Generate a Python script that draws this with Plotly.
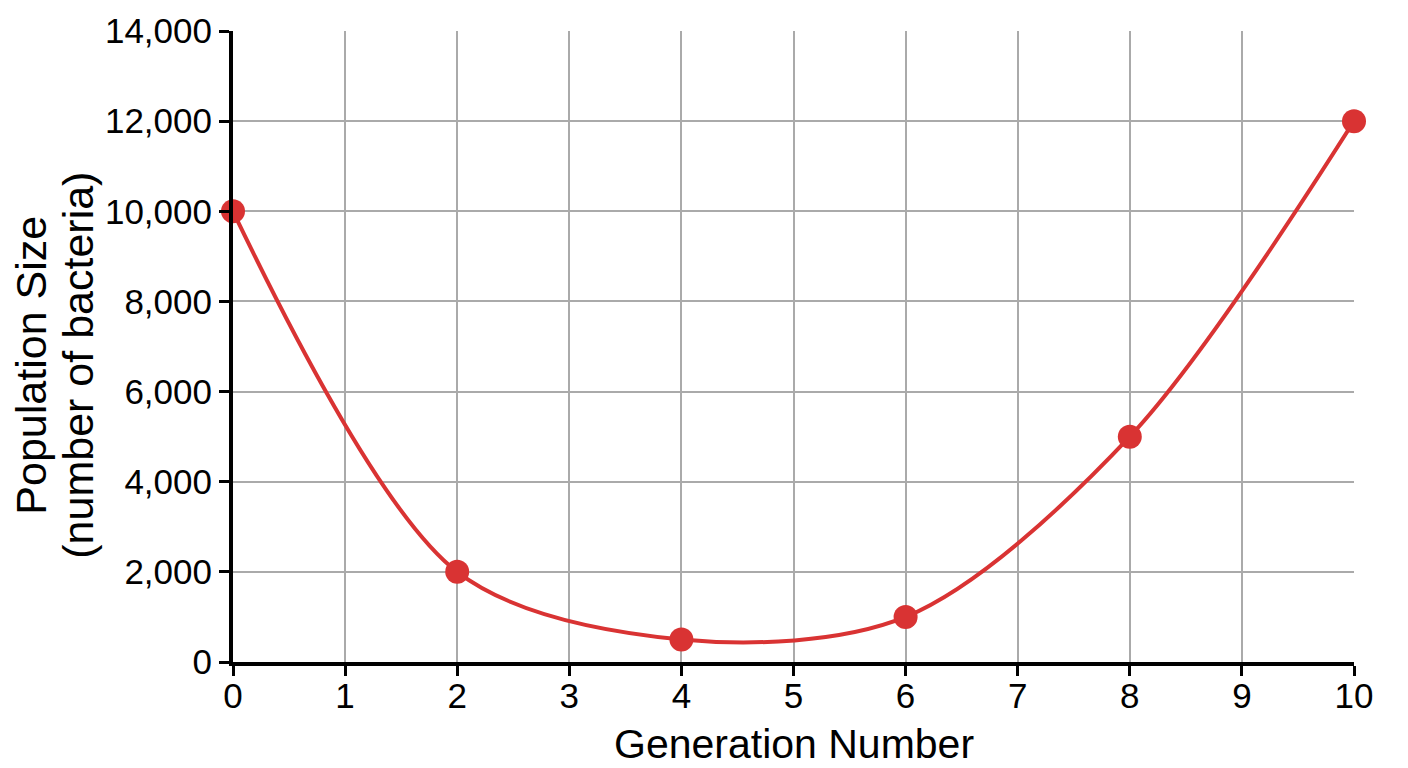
import plotly.graph_objs as go

# data
generation = [0, 2, 4, 6, 8, 10]
population = [10000, 2000, 500, 1000, 5000, 12000]

x_ticks = list(range(0, 11))
y_ticks = list(range(0, 14001, 2000))

x_title = 'Generation Number'
y_title_lines = ['Population Size', '(number of bacteria)']

red = '#d93333'

trace = go.Scatter(
    x=generation, y=population, mode='lines+markers',
    line=dict(color=red, width=4, shape='spline', smoothing=0.9),
    marker=dict(color=red, size=24),
    cliponaxis=False, showlegend=False,
)

# page body adds an 8px margin, so the figure margins are shifted to compensate
layout = go.Layout(
    width=1408, height=768,
    margin=dict(l=225, r=62, t=23, b=114),
    paper_bgcolor='white', plot_bgcolor='white',
    font=dict(family='Liberation Sans, Arial, sans-serif', color='black', size=35),
    xaxis=dict(
        range=[0, 10], tickvals=x_ticks, automargin=False, ticklabelstandoff=-10,
        showgrid=True, gridcolor='#aaaaaa', gridwidth=1.5,
        showline=True, linecolor='black', linewidth=4,
        ticks='outside', ticklen=10, tickwidth=3, tickcolor='black',
        zeroline=False,
    ),
    yaxis=dict(
        range=[0, 14000], tickvals=y_ticks, tickformat=',d', automargin=False,
        showgrid=True, gridcolor='#aaaaaa', gridwidth=1.5,
        showline=True, linecolor='black', linewidth=4,
        ticks='outside', ticklen=10, tickwidth=3, tickcolor='black',
        zeroline=False,
    ),
)

fig = go.Figure(data=[trace], layout=layout)

# axis titles as annotations so their spots can be set exactly
fig.add_annotation(
    text=x_title, showarrow=False, xref='paper', yref='paper',
    x=0.5, y=-0.13, xanchor='center', yanchor='middle', font=dict(size=41),
)
for i, line in enumerate(y_title_lines):
    fig.add_annotation(
        text=line, textangle=-90, showarrow=False,
        xref='paper', yref='paper', x=-0.18 + i * 0.042, y=0.47,
        xanchor='center', yanchor='middle', font=dict(size=43),
    )

fig.write_html('out.html')
